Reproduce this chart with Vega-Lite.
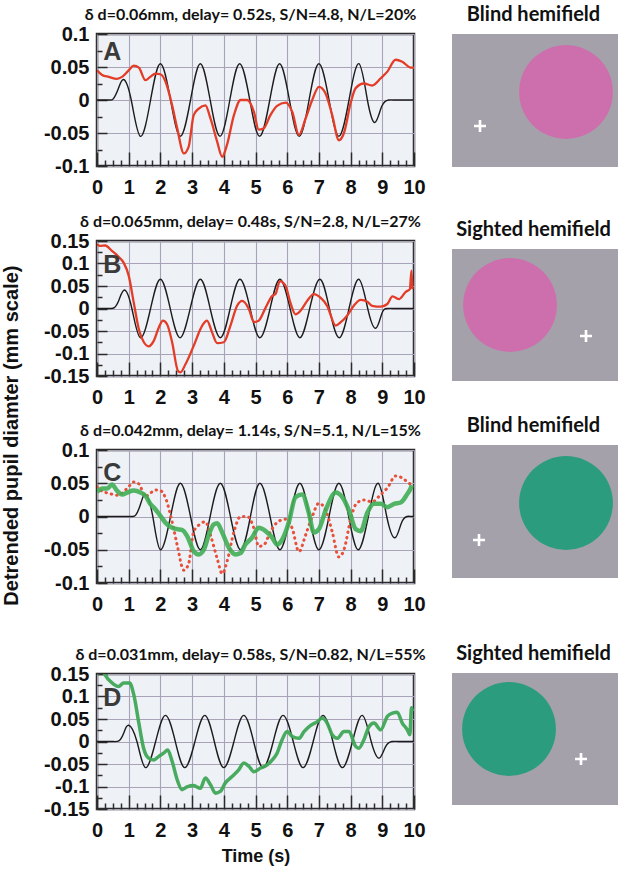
{
"$schema": "https://vega.github.io/schema/vega-lite/v6.json",
"padding": {"left": 2, "top": 5, "right": 0, "bottom": 0},
"title": {"text": "Detrended pupil diamter (mm scale)", "orient": "left", "anchor": "middle", "font": "Liberation Sans", "fontSize": 20, "fontWeight": "bold", "color": "#111", "offset": 20},
"config": {
  "view": {"stroke": "#2b2b2b", "strokeWidth": 2.5, "fill": "#eef1f6"},
  "axis": {"domain": false, "grid": true, "labelFont": "Liberation Sans", "labelFontWeight": "bold", "labelFontSize": 20, "labelColor": "#111", "tickColor": "#2b2b2b", "tickWidth": 1.5, "gridColor": "#a9a3b8", "gridWidth": 1.1, "titleFont": "Liberation Sans", "titleFontWeight": "bold", "titleFontSize": 18, "titleColor": "#111", "labelFlush": false, "labelOverlap": false},
  "title": {"font": "Lato", "fontWeight": "bold", "fontSize": 16, "color": "#111"}
},
"datasets": {
  "stimA": [{"t":0,"v":0},{"t":0.2,"v":0},{"t":0.4,"v":0},{"t":0.52,"v":0.002},{"t":0.68,"v":0.018},{"t":0.84,"v":0.031},{"t":1.08,"v":0},{"t":1.37,"v":-0.055},{"t":1.69,"v":0},{"t":2.0,"v":0.055},{"t":2.32,"v":0},{"t":2.63,"v":-0.055},{"t":2.95,"v":0},{"t":3.26,"v":0.055},{"t":3.57,"v":0},{"t":3.88,"v":-0.055},{"t":4.19,"v":0},{"t":4.5,"v":0.055},{"t":4.82,"v":0},{"t":5.13,"v":-0.055},{"t":5.45,"v":0},{"t":5.76,"v":0.055},{"t":6.07,"v":0},{"t":6.38,"v":-0.055},{"t":6.69,"v":0},{"t":7.0,"v":0.055},{"t":7.32,"v":0},{"t":7.63,"v":-0.055},{"t":7.95,"v":0},{"t":8.26,"v":0.055},{"t":8.53,"v":0},{"t":8.77,"v":-0.034},{"t":8.98,"v":-0.01},{"t":9.2,"v":0},{"t":9.4,"v":0},{"t":9.6,"v":0},{"t":9.8,"v":0},{"t":10,"v":0}],
  "respA": [{"t":0,"v":0.045},{"t":0.16,"v":0.038},{"t":0.37,"v":0.035},{"t":0.63,"v":0.032},{"t":0.79,"v":0.035},{"t":1.0,"v":0.045},{"t":1.16,"v":0.052},{"t":1.32,"v":0.049},{"t":1.53,"v":0.030},{"t":1.68,"v":0.035},{"t":1.84,"v":0.040},{"t":2.0,"v":0.039},{"t":2.16,"v":0.028},{"t":2.37,"v":-0.008},{"t":2.53,"v":-0.043},{"t":2.74,"v":-0.081},{"t":2.89,"v":-0.071},{"t":3.05,"v":-0.023},{"t":3.21,"v":-0.013},{"t":3.42,"v":-0.008},{"t":3.58,"v":-0.028},{"t":3.79,"v":-0.063},{"t":3.95,"v":-0.086},{"t":4.1,"v":-0.068},{"t":4.32,"v":-0.023},{"t":4.53,"v":0.0},{"t":4.74,"v":0.0},{"t":4.95,"v":-0.018},{"t":5.1,"v":-0.045},{"t":5.26,"v":-0.043},{"t":5.47,"v":-0.023},{"t":5.68,"v":-0.009},{"t":5.95,"v":-0.004},{"t":6.16,"v":-0.018},{"t":6.37,"v":-0.053},{"t":6.58,"v":-0.028},{"t":6.79,"v":0.0},{"t":7.0,"v":0.020},{"t":7.21,"v":0.010},{"t":7.42,"v":-0.023},{"t":7.63,"v":-0.061},{"t":7.79,"v":-0.050},{"t":8.0,"v":-0.005},{"t":8.16,"v":0.018},{"t":8.42,"v":0.025},{"t":8.68,"v":0.022},{"t":8.95,"v":0.033},{"t":9.16,"v":0.043},{"t":9.42,"v":0.061},{"t":9.63,"v":0.058},{"t":9.9,"v":0.049},{"t":10,"v":0.049}],
  "stimB": [{"t":0,"v":0},{"t":0.2,"v":0},{"t":0.4,"v":0},{"t":0.55,"v":0.002},{"t":0.7,"v":0.02},{"t":0.87,"v":0.041},{"t":1.1,"v":0},{"t":1.37,"v":-0.065},{"t":1.69,"v":0},{"t":2.0,"v":0.065},{"t":2.31,"v":0},{"t":2.62,"v":-0.065},{"t":2.94,"v":0},{"t":3.26,"v":0.065},{"t":3.57,"v":0},{"t":3.89,"v":-0.065},{"t":4.2,"v":0},{"t":4.51,"v":0.065},{"t":4.83,"v":0},{"t":5.14,"v":-0.065},{"t":5.46,"v":0},{"t":5.77,"v":0.065},{"t":6.09,"v":0},{"t":6.4,"v":-0.065},{"t":6.71,"v":0},{"t":7.03,"v":0.065},{"t":7.33,"v":0},{"t":7.64,"v":-0.065},{"t":7.95,"v":0},{"t":8.26,"v":0.065},{"t":8.54,"v":0},{"t":8.79,"v":-0.044},{"t":8.98,"v":-0.012},{"t":9.15,"v":0},{"t":9.4,"v":0},{"t":9.6,"v":0},{"t":9.8,"v":0},{"t":10,"v":0}],
  "respB": [{"t":0,"v":0.143},{"t":0.1,"v":0.139},{"t":0.26,"v":0.14},{"t":0.47,"v":0.128},{"t":0.68,"v":0.115},{"t":0.84,"v":0.102},{"t":1.0,"v":0.073},{"t":1.16,"v":0.013},{"t":1.32,"v":-0.046},{"t":1.47,"v":-0.074},{"t":1.63,"v":-0.084},{"t":1.79,"v":-0.072},{"t":1.95,"v":-0.042},{"t":2.08,"v":-0.027},{"t":2.21,"v":-0.035},{"t":2.37,"v":-0.075},{"t":2.55,"v":-0.138},{"t":2.63,"v":-0.142},{"t":2.79,"v":-0.124},{"t":3.05,"v":-0.083},{"t":3.32,"v":-0.038},{"t":3.47,"v":-0.027},{"t":3.63,"v":-0.053},{"t":3.79,"v":-0.077},{"t":4.0,"v":-0.075},{"t":4.21,"v":-0.038},{"t":4.42,"v":0.006},{"t":4.58,"v":0.017},{"t":4.79,"v":-0.001},{"t":4.95,"v":-0.030},{"t":5.1,"v":-0.027},{"t":5.32,"v":0.002},{"t":5.53,"v":0.028},{"t":5.63,"v":0.032},{"t":5.77,"v":0.061},{"t":5.95,"v":0.050},{"t":6.1,"v":0.013},{"t":6.26,"v":-0.013},{"t":6.42,"v":-0.005},{"t":6.63,"v":0.017},{"t":6.84,"v":0.032},{"t":7.05,"v":0.024},{"t":7.26,"v":0.006},{"t":7.53,"v":-0.038},{"t":7.68,"v":-0.031},{"t":7.89,"v":-0.016},{"t":8.1,"v":0.006},{"t":8.32,"v":0.019},{"t":8.53,"v":0.015},{"t":8.68,"v":0.006},{"t":8.95,"v":0.004},{"t":9.16,"v":0.010},{"t":9.32,"v":0.027},{"t":9.53,"v":0.021},{"t":9.74,"v":0.037},{"t":9.87,"v":0.043},{"t":9.92,"v":0.084},{"t":9.95,"v":0.043}],
  "stimC": [{"t":0,"v":0},{"t":0.3,"v":0},{"t":0.6,"v":0},{"t":0.9,"v":0},{"t":1.1,"v":0},{"t":1.22,"v":0.002},{"t":1.37,"v":0.018},{"t":1.53,"v":0.033},{"t":1.76,"v":0},{"t":2.0,"v":-0.05},{"t":2.32,"v":0},{"t":2.63,"v":0.05},{"t":2.95,"v":0},{"t":3.26,"v":-0.05},{"t":3.57,"v":0},{"t":3.89,"v":0.05},{"t":4.21,"v":0},{"t":4.53,"v":-0.05},{"t":4.84,"v":0},{"t":5.14,"v":0.05},{"t":5.46,"v":0},{"t":5.77,"v":-0.05},{"t":6.09,"v":0},{"t":6.4,"v":0.05},{"t":6.7,"v":0},{"t":7.0,"v":-0.05},{"t":7.32,"v":0},{"t":7.63,"v":0.05},{"t":7.94,"v":0},{"t":8.24,"v":-0.05},{"t":8.56,"v":0},{"t":8.87,"v":0.05},{"t":9.14,"v":0},{"t":9.4,"v":-0.032},{"t":9.6,"v":-0.01},{"t":9.78,"v":0},{"t":9.9,"v":0},{"t":10,"v":0}],
  "respC": [{"t":0,"v":0.037},{"t":0.16,"v":0.042},{"t":0.32,"v":0.042},{"t":0.47,"v":0.048},{"t":0.63,"v":0.039},{"t":0.79,"v":0.033},{"t":0.95,"v":0.036},{"t":1.16,"v":0.039},{"t":1.37,"v":0.036},{"t":1.53,"v":0.031},{"t":1.68,"v":0.019},{"t":1.84,"v":0.011},{"t":2.0,"v":0.001},{"t":2.21,"v":-0.012},{"t":2.37,"v":-0.017},{"t":2.53,"v":-0.019},{"t":2.68,"v":-0.02},{"t":2.84,"v":-0.029},{"t":3.05,"v":-0.052},{"t":3.21,"v":-0.057},{"t":3.37,"v":-0.05},{"t":3.53,"v":-0.027},{"t":3.68,"v":-0.012},{"t":3.79,"v":-0.01},{"t":3.95,"v":-0.024},{"t":4.16,"v":-0.047},{"t":4.37,"v":-0.057},{"t":4.53,"v":-0.055},{"t":4.68,"v":-0.042},{"t":4.89,"v":-0.032},{"t":5.1,"v":-0.017},{"t":5.32,"v":-0.022},{"t":5.53,"v":-0.032},{"t":5.68,"v":-0.042},{"t":5.84,"v":-0.035},{"t":6.05,"v":-0.009},{"t":6.26,"v":0.029},{"t":6.47,"v":0.033},{"t":6.68,"v":0.006},{"t":6.84,"v":-0.024},{"t":7.0,"v":-0.019},{"t":7.21,"v":0.009},{"t":7.53,"v":0.036},{"t":7.74,"v":0.029},{"t":7.95,"v":0.009},{"t":8.16,"v":-0.019},{"t":8.32,"v":-0.022},{"t":8.53,"v":0.006},{"t":8.74,"v":0.019},{"t":8.95,"v":0.019},{"t":9.16,"v":0.014},{"t":9.37,"v":0.019},{"t":9.58,"v":0.021},{"t":9.79,"v":0.034},{"t":9.89,"v":0.042},{"t":9.93,"v":0.047}],
  "stimD": [{"t":0,"v":0},{"t":0.25,"v":0},{"t":0.5,"v":0},{"t":0.7,"v":0.002},{"t":0.85,"v":0.02},{"t":1.0,"v":0.036},{"t":1.26,"v":0},{"t":1.53,"v":-0.058},{"t":1.85,"v":0},{"t":2.16,"v":0.058},{"t":2.47,"v":0},{"t":2.77,"v":-0.058},{"t":3.09,"v":0},{"t":3.4,"v":0.058},{"t":3.7,"v":0},{"t":4.0,"v":-0.058},{"t":4.32,"v":0},{"t":4.63,"v":0.058},{"t":4.94,"v":0},{"t":5.24,"v":-0.058},{"t":5.56,"v":0},{"t":5.87,"v":0.058},{"t":6.19,"v":0},{"t":6.5,"v":-0.058},{"t":6.82,"v":0},{"t":7.13,"v":0.058},{"t":7.44,"v":0},{"t":7.74,"v":-0.058},{"t":8.06,"v":0},{"t":8.37,"v":0.058},{"t":8.65,"v":0},{"t":8.9,"v":-0.037},{"t":9.1,"v":-0.012},{"t":9.3,"v":0},{"t":9.5,"v":0},{"t":9.75,"v":0},{"t":10,"v":0}],
  "respD": [{"t":0,"v":0.152},{"t":0.16,"v":0.154},{"t":0.37,"v":0.137},{"t":0.53,"v":0.127},{"t":0.68,"v":0.122},{"t":0.84,"v":0.13},{"t":1.03,"v":0.13},{"t":1.16,"v":0.104},{"t":1.32,"v":0.041},{"t":1.47,"v":-0.015},{"t":1.63,"v":-0.037},{"t":1.79,"v":-0.041},{"t":1.95,"v":-0.033},{"t":2.1,"v":-0.026},{"t":2.23,"v":-0.019},{"t":2.37,"v":-0.044},{"t":2.53,"v":-0.085},{"t":2.68,"v":-0.107},{"t":2.84,"v":-0.101},{"t":3.05,"v":-0.098},{"t":3.26,"v":-0.104},{"t":3.42,"v":-0.081},{"t":3.58,"v":-0.096},{"t":3.74,"v":-0.115},{"t":3.89,"v":-0.111},{"t":4.05,"v":-0.092},{"t":4.26,"v":-0.078},{"t":4.47,"v":-0.063},{"t":4.63,"v":-0.048},{"t":4.79,"v":-0.055},{"t":4.95,"v":-0.067},{"t":5.16,"v":-0.059},{"t":5.37,"v":-0.052},{"t":5.53,"v":-0.041},{"t":5.68,"v":-0.026},{"t":5.84,"v":0.004},{"t":6.0,"v":0.022},{"t":6.16,"v":0.011},{"t":6.37,"v":0.007},{"t":6.53,"v":0.022},{"t":6.74,"v":0.036},{"t":6.95,"v":0.044},{"t":7.1,"v":0.052},{"t":7.26,"v":0.041},{"t":7.42,"v":0.015},{"t":7.58,"v":0.007},{"t":7.79,"v":0.022},{"t":7.95,"v":0.022},{"t":8.16,"v":-0.011},{"t":8.26,"v":-0.015},{"t":8.42,"v":0.004},{"t":8.58,"v":0.033},{"t":8.74,"v":0.041},{"t":8.95,"v":0.026},{"t":9.16,"v":0.056},{"t":9.32,"v":0.063},{"t":9.47,"v":0.065},{"t":9.63,"v":0.041},{"t":9.79,"v":0.026},{"t":9.87,"v":0.015},{"t":9.92,"v":0.075},{"t":9.95,"v":0.067}]
},
"spacing": 23,
"hconcat": [
{"spacing": 5, "vconcat": [
  {"width": 317, "height": 132,
   "title": {"text": "δ d=0.06mm, delay= 0.52s, S/N=4.8,  N/L=20%", "dx": -5, "offset": 1},
   "encoding": {
     "x": {"field": "t", "type": "quantitative", "scale": {"domain": [0, 10], "nice": false, "zero": false}, "axis": {"title": null, "values": [0,0.25,0.5,0.75,1,1.25,1.5,1.75,2,2.25,2.5,2.75,3,3.25,3.5,3.75,4,4.25,4.5,4.75,5,5.25,5.5,5.75,6,6.25,6.5,6.75,7,7.25,7.5,7.75,8,8.25,8.5,8.75,9,9.25,9.5,9.75,10], "labelExpr": "datum.value % 1 === 0 ? toString(datum.value) : ''", "tickSize": {"condition": {"test": "datum.value % 1 === 0", "value": -14}, "value": -6}, "gridOpacity": {"condition": {"test": "datum.value % 1 === 0", "value": 1}, "value": 0}, "labelPadding": 25}},
     "y": {"field": "v", "type": "quantitative", "scale": {"domain": [-0.1, 0.1], "nice": false, "zero": false}, "axis": {"title": null, "values": [-0.1,-0.075,-0.05,-0.025,0,0.025,0.05,0.075,0.1], "labelExpr": "round(datum.value*40) % 2 === 0 ? toString(datum.value) : ''", "tickSize": {"condition": {"test": "round(datum.value*40) % 2 === 0", "value": -10}, "value": -5}, "gridOpacity": {"condition": {"test": "round(datum.value*40) % 2 === 0", "value": 1}, "value": 0}, "labelPadding": 18}}
   },
   "layer": [
     {"data": {"name": "stimA"}, "mark": {"type": "line", "color": "#1c1c1c", "strokeWidth": 1.4, "interpolate": "natural", "clip": true}, "encoding": {}},
     {"data": {"name": "respA"}, "mark": {"type": "line", "color": "#e33d28", "strokeWidth": 2.3, "interpolate": "monotone", "clip": true}, "encoding": {}},
     {"data": {"values": [{"label": "A", "t": 0.2, "v": 0.073}]}, "mark": {"type": "text", "align": "left", "baseline": "middle", "font": "Liberation Sans", "fontWeight": "bold", "fontSize": 25, "color": "#3a3a3a"}, "encoding": {"text": {"field": "label", "type": "nominal"}}}
   ]
  },
  {"spacing": 4, "vconcat": [
    {"width": 317, "height": 135,
     "title": {"text": "δ d=0.065mm, delay= 0.48s, S/N=2.8,  N/L=27%", "dx": -5, "offset": 1},
     "encoding": {
       "x": {"field": "t", "type": "quantitative", "scale": {"domain": [0, 10], "nice": false, "zero": false}, "axis": {"title": null, "values": [0,0.25,0.5,0.75,1,1.25,1.5,1.75,2,2.25,2.5,2.75,3,3.25,3.5,3.75,4,4.25,4.5,4.75,5,5.25,5.5,5.75,6,6.25,6.5,6.75,7,7.25,7.5,7.75,8,8.25,8.5,8.75,9,9.25,9.5,9.75,10], "labelExpr": "datum.value % 1 === 0 ? toString(datum.value) : ''", "tickSize": {"condition": {"test": "datum.value % 1 === 0", "value": -14}, "value": -6}, "gridOpacity": {"condition": {"test": "datum.value % 1 === 0", "value": 1}, "value": 0}, "labelPadding": 25}},
       "y": {"field": "v", "type": "quantitative", "scale": {"domain": [-0.15, 0.15], "nice": false, "zero": false}, "axis": {"title": null, "values": [-0.15,-0.125,-0.1,-0.075,-0.05,-0.025,0,0.025,0.05,0.075,0.1,0.125,0.15], "labelExpr": "round(datum.value*40) % 2 === 0 ? toString(datum.value) : ''", "tickSize": {"condition": {"test": "round(datum.value*40) % 2 === 0", "value": -10}, "value": -5}, "gridOpacity": {"condition": {"test": "round(datum.value*40) % 2 === 0", "value": 1}, "value": 0}, "labelPadding": 18}}
     },
     "layer": [
       {"data": {"name": "stimB"}, "mark": {"type": "line", "color": "#1c1c1c", "strokeWidth": 1.4, "interpolate": "natural", "clip": true}, "encoding": {}},
       {"data": {"name": "respB"}, "mark": {"type": "line", "color": "#e33d28", "strokeWidth": 2.3, "interpolate": "monotone", "clip": true}, "encoding": {}},
       {"data": {"values": [{"label": "B", "t": 0.2, "v": 0.097}]}, "mark": {"type": "text", "align": "left", "baseline": "middle", "font": "Liberation Sans", "fontWeight": "bold", "fontSize": 25, "color": "#3a3a3a"}, "encoding": {"text": {"field": "label", "type": "nominal"}}}
     ]
    },
    {"spacing": 21, "vconcat": [
      {"width": 317, "height": 133,
       "title": {"text": "δ d=0.042mm, delay= 1.14s, S/N=5.1,  N/L=15%", "dx": -5, "offset": 1},
       "encoding": {
         "x": {"field": "t", "type": "quantitative", "scale": {"domain": [0, 10], "nice": false, "zero": false}, "axis": {"title": null, "values": [0,0.25,0.5,0.75,1,1.25,1.5,1.75,2,2.25,2.5,2.75,3,3.25,3.5,3.75,4,4.25,4.5,4.75,5,5.25,5.5,5.75,6,6.25,6.5,6.75,7,7.25,7.5,7.75,8,8.25,8.5,8.75,9,9.25,9.5,9.75,10], "labelExpr": "datum.value % 1 === 0 ? toString(datum.value) : ''", "tickSize": {"condition": {"test": "datum.value % 1 === 0", "value": -14}, "value": -6}, "gridOpacity": {"condition": {"test": "datum.value % 1 === 0", "value": 1}, "value": 0}, "labelPadding": 25}},
         "y": {"field": "v", "type": "quantitative", "scale": {"domain": [-0.1, 0.1], "nice": false, "zero": false}, "axis": {"title": null, "values": [-0.1,-0.075,-0.05,-0.025,0,0.025,0.05,0.075,0.1], "labelExpr": "round(datum.value*40) % 2 === 0 ? toString(datum.value) : ''", "tickSize": {"condition": {"test": "round(datum.value*40) % 2 === 0", "value": -10}, "value": -5}, "gridOpacity": {"condition": {"test": "round(datum.value*40) % 2 === 0", "value": 1}, "value": 0}, "labelPadding": 18}}
       },
       "layer": [
         {"data": {"name": "stimC"}, "mark": {"type": "line", "color": "#1c1c1c", "strokeWidth": 1.4, "interpolate": "natural", "clip": true}, "encoding": {}},
         {"data": {"name": "respA"}, "mark": {"type": "line", "color": "#e8503a", "strokeWidth": 3, "strokeDash": [0.5, 5], "strokeCap": "round", "interpolate": "monotone", "clip": true}, "encoding": {}},
         {"data": {"name": "respC"}, "mark": {"type": "line", "color": "#40ad55", "strokeWidth": 4.5, "opacity": 0.9, "interpolate": "monotone", "clip": true}, "encoding": {}},
         {"data": {"values": [{"label": "C", "t": 0.2, "v": 0.066}]}, "mark": {"type": "text", "align": "left", "baseline": "middle", "font": "Liberation Sans", "fontWeight": "bold", "fontSize": 25, "color": "#3a3a3a"}, "encoding": {"text": {"field": "label", "type": "nominal"}}}
       ]
      },
      {"width": 317, "height": 135,
       "title": {"text": "δ d=0.031mm, delay= 0.58s, S/N=0.82,  N/L=55%", "dx": -5, "offset": 1},
       "encoding": {
         "x": {"field": "t", "type": "quantitative", "scale": {"domain": [0, 10], "nice": false, "zero": false}, "axis": {"title": "Time (s)", "titlePadding": -1, "values": [0,0.25,0.5,0.75,1,1.25,1.5,1.75,2,2.25,2.5,2.75,3,3.25,3.5,3.75,4,4.25,4.5,4.75,5,5.25,5.5,5.75,6,6.25,6.5,6.75,7,7.25,7.5,7.75,8,8.25,8.5,8.75,9,9.25,9.5,9.75,10], "labelExpr": "datum.value % 1 === 0 ? toString(datum.value) : ''", "tickSize": {"condition": {"test": "datum.value % 1 === 0", "value": -14}, "value": -6}, "gridOpacity": {"condition": {"test": "datum.value % 1 === 0", "value": 1}, "value": 0}, "labelPadding": 25}},
         "y": {"field": "v", "type": "quantitative", "scale": {"domain": [-0.15, 0.15], "nice": false, "zero": false}, "axis": {"title": null, "values": [-0.15,-0.125,-0.1,-0.075,-0.05,-0.025,0,0.025,0.05,0.075,0.1,0.125,0.15], "labelExpr": "round(datum.value*40) % 2 === 0 ? toString(datum.value) : ''", "tickSize": {"condition": {"test": "round(datum.value*40) % 2 === 0", "value": -10}, "value": -5}, "gridOpacity": {"condition": {"test": "round(datum.value*40) % 2 === 0", "value": 1}, "value": 0}, "labelPadding": 18}}
       },
       "layer": [
         {"data": {"name": "stimD"}, "mark": {"type": "line", "color": "#1c1c1c", "strokeWidth": 1.4, "interpolate": "natural", "clip": true}, "encoding": {}},
         {"data": {"name": "respD"}, "mark": {"type": "line", "color": "#3fa656", "strokeWidth": 3.5, "opacity": 0.95, "interpolate": "monotone", "clip": true}, "encoding": {}},
         {"data": {"values": [{"label": "D", "t": 0.2, "v": 0.096}]}, "mark": {"type": "text", "align": "left", "baseline": "middle", "font": "Liberation Sans", "fontWeight": "bold", "fontSize": 25, "color": "#3a3a3a"}, "encoding": {"text": {"field": "label", "type": "nominal"}}}
       ]
      }
    ]}
  ]}
]},
{"spacing": 53, "vconcat": [
  {"width": 167, "height": 133,
   "title": {"text": "Blind hemifield", "font": "Lato", "fontSize": 20, "fontWeight": "bold", "dx": -2, "offset": 9},
   "view": {"fill": "#a4a1ab", "stroke": null},
   "data": {"values": [{"item": "stimulus", "x": 11.4, "y": 7.5}, {"item": "fixation", "x": 2.8, "y": 4.1}]},
   "encoding": {"x": {"field": "x", "type": "quantitative", "scale": {"domain": [0, 16.7], "nice": false, "zero": false}, "axis": null}, "y": {"field": "y", "type": "quantitative", "scale": {"domain": [0, 13.3], "nice": false, "zero": false}, "axis": null}},
   "layer": [
     {"transform": [{"filter": "datum.item === 'stimulus'"}], "mark": {"type": "point", "shape": "circle", "filled": true, "size": 8800, "color": "#cd6fac", "opacity": 1}},
     {"transform": [{"filter": "datum.item === 'fixation'"}], "mark": {"type": "point", "shape": "M-1,-0.22H1V0.22H-1Z M-0.22,-1H0.22V1H-0.22Z", "filled": true, "size": 144, "color": "#ffffff", "opacity": 1}}
   ]
  },
  {"spacing": 35, "vconcat": [
    {"width": 167, "height": 132,
     "title": {"text": "Sighted hemifield", "font": "Lato", "fontSize": 20, "fontWeight": "bold", "dx": -2, "offset": 9},
     "view": {"fill": "#a4a1ab", "stroke": null},
     "data": {"values": [{"item": "stimulus", "x": 5.8, "y": 7.6}, {"item": "fixation", "x": 13.4, "y": 4.5}]},
     "encoding": {"x": {"field": "x", "type": "quantitative", "scale": {"domain": [0, 16.7], "nice": false, "zero": false}, "axis": null}, "y": {"field": "y", "type": "quantitative", "scale": {"domain": [0, 13.2], "nice": false, "zero": false}, "axis": null}},
     "layer": [
       {"transform": [{"filter": "datum.item === 'stimulus'"}], "mark": {"type": "point", "shape": "circle", "filled": true, "size": 8800, "color": "#cd6fac", "opacity": 1}},
       {"transform": [{"filter": "datum.item === 'fixation'"}], "mark": {"type": "point", "shape": "M-1,-0.22H1V0.22H-1Z M-0.22,-1H0.22V1H-0.22Z", "filled": true, "size": 144, "color": "#ffffff", "opacity": 1}}
     ]
    },
    {"spacing": 66, "vconcat": [
      {"width": 167, "height": 133,
       "title": {"text": "Blind hemifield", "font": "Lato", "fontSize": 20, "fontWeight": "bold", "dx": -2, "offset": 9},
       "view": {"fill": "#a4a1ab", "stroke": null},
       "data": {"values": [{"item": "stimulus", "x": 11.4, "y": 7.5}, {"item": "fixation", "x": 2.7, "y": 3.8}]},
       "encoding": {"x": {"field": "x", "type": "quantitative", "scale": {"domain": [0, 16.7], "nice": false, "zero": false}, "axis": null}, "y": {"field": "y", "type": "quantitative", "scale": {"domain": [0, 13.3], "nice": false, "zero": false}, "axis": null}},
       "layer": [
         {"transform": [{"filter": "datum.item === 'stimulus'"}], "mark": {"type": "point", "shape": "circle", "filled": true, "size": 8800, "color": "#2c9c7f", "opacity": 1}},
         {"transform": [{"filter": "datum.item === 'fixation'"}], "mark": {"type": "point", "shape": "M-1,-0.22H1V0.22H-1Z M-0.22,-1H0.22V1H-0.22Z", "filled": true, "size": 144, "color": "#ffffff", "opacity": 1}}
       ]
      },
      {"width": 167, "height": 132,
       "title": {"text": "Sighted hemifield", "font": "Lato", "fontSize": 20, "fontWeight": "bold", "dx": -2, "offset": 9},
       "view": {"fill": "#a4a1ab", "stroke": null},
       "data": {"values": [{"item": "stimulus", "x": 5.7, "y": 7.6}, {"item": "fixation", "x": 12.9, "y": 4.6}]},
       "encoding": {"x": {"field": "x", "type": "quantitative", "scale": {"domain": [0, 16.7], "nice": false, "zero": false}, "axis": null}, "y": {"field": "y", "type": "quantitative", "scale": {"domain": [0, 13.2], "nice": false, "zero": false}, "axis": null}},
       "layer": [
         {"transform": [{"filter": "datum.item === 'stimulus'"}], "mark": {"type": "point", "shape": "circle", "filled": true, "size": 8800, "color": "#2c9c7f", "opacity": 1}},
         {"transform": [{"filter": "datum.item === 'fixation'"}], "mark": {"type": "point", "shape": "M-1,-0.22H1V0.22H-1Z M-0.22,-1H0.22V1H-0.22Z", "filled": true, "size": 144, "color": "#ffffff", "opacity": 1}}
       ]
      }
    ]}
  ]}
]}
]
}
